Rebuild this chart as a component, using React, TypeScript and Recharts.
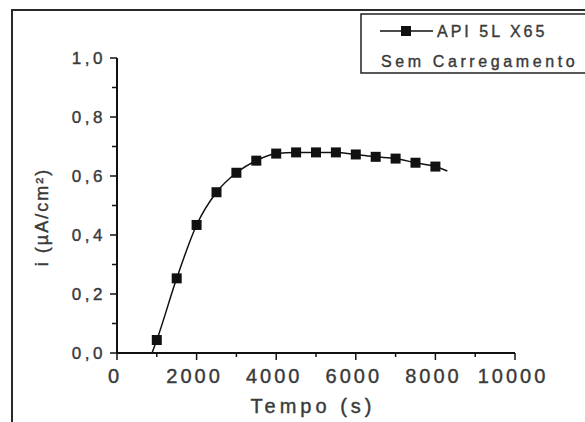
import { Legend, Line, LineChart, XAxis, YAxis } from 'recharts'

// Tempo (s) of each measured point
const tempo = [1000, 1500, 2000, 2500, 3000, 3500, 4000, 4500, 5000, 5500, 6000, 6500, 7000, 7500, 8000]
// i (µA/cm²)
const corrente = [0.044, 0.253, 0.434, 0.545, 0.611, 0.652, 0.676, 0.68, 0.68, 0.68, 0.673, 0.665, 0.659, 0.645, 0.632]
// where the fitted curve starts and ends, beyond the markers
const fitStart = { t: 880, i: 0 }
const fitEnd = { t: 8300, i: 0.617 }

const xTicks = [0, 1000, 2000, 3000, 4000, 5000, 6000, 7000, 8000, 9000, 10000]
const yTicks = [0, 0.1, 0.2, 0.3, 0.4, 0.5, 0.6, 0.7, 0.8, 0.9, 1]

const serieNome = 'API 5L X65'
const serieSub = 'Sem Carregamento'
const xTitulo = 'Tempo (s)'
const yTitulo = 'i (µA/cm²)'

const FONT = '"Liberation Sans", Arial, sans-serif'
const INK = '#111'
const TEXT = '#3a3a3a'
// the scanned text looks heavier than plain Arial
const textStyle = { fontFamily: FONT, fill: TEXT, stroke: TEXT, strokeWidth: 0.4 }

const data = [
  { t: fitStart.t, fit: fitStart.i },
  ...tempo.map((t, k) => ({ t, i: corrente[k], fit: corrente[k] })),
  { t: fitEnd.t, fit: fitEnd.i },
]

function XTick(props: any) {
  const { x, y, payload } = props
  const major = payload.value % 2000 === 0
  return (
    <g>
      <line x1={x} x2={x} y1={y} y2={y + (major ? 7 : 4)} stroke={INK} strokeWidth={1.5} />
      {major && (
        <text x={x - 2} y={y + 30} textAnchor="middle" fontSize={20} letterSpacing={3} style={textStyle}>
          {payload.value}
        </text>
      )}
    </g>
  )
}

function YTick(props: any) {
  const { x, y, payload } = props
  const major = Math.round(payload.value * 10) % 2 === 0
  return (
    <g>
      <line x1={x} x2={x - (major ? 7 : 5)} y1={y} y2={y} stroke={INK} strokeWidth={1.5} />
      {major && (
        <text x={x - 11} y={y} textAnchor="end" dominantBaseline="central" fontSize={17} letterSpacing={3.5} style={textStyle}>
          {payload.value.toFixed(1).replace('.', ',')}
        </text>
      )}
    </g>
  )
}

function SquareDot(props: any) {
  const { cx, cy } = props
  if (cx == null || cy == null) return null
  return <rect key={`d-${cx}`} x={cx - 5} y={cy - 5} width={10} height={10} fill={INK} />
}

function LegendBox() {
  return (
    <svg width={240} height={62} style={{ display: 'block' }}>
      <rect x={1} y={1} width={260} height={59} fill="#fff" stroke="#222" strokeWidth={1.5} />
      <line x1={20} x2={73} y1={18} y2={18} stroke={INK} strokeWidth={1.5} />
      <rect x={41} y={13} width={10} height={10} fill={INK} />
      <text x={77} y={24} fontSize={16} letterSpacing={3} style={textStyle}>
        {serieNome}
      </text>
      <text x={21} y={54} fontSize={16} letterSpacing={3.6} style={textStyle}>
        {serieSub}
      </text>
    </svg>
  )
}

export default function App() {
  return (
    <div style={{ position: 'relative', width: 585, height: 422, overflow: 'hidden', background: '#fff' }}>
      <style>{'body{margin:0}'}</style>
      <div
        style={{
          position: 'absolute',
          left: 11,
          top: 9,
          width: 700,
          height: 700,
          border: '2px solid #2a2a2a',
        }}
      />
      <div style={{ position: 'absolute', left: 0, top: 0 }}>
        <LineChart width={585} height={422} data={data} margin={{ top: 58, right: 70, left: 0, bottom: 0 }}>
          <XAxis
            dataKey="t"
            type="number"
            domain={[0, 10000]}
            ticks={xTicks}
            interval={0}
            height={69}
            tickSize={0}
            tickMargin={0}
            tick={<XTick />}
            axisLine={{ stroke: INK, strokeWidth: 2 }}
            label={{
              content: () => (
                <text x={313} y={413} textAnchor="middle" fontSize={20} letterSpacing={4} style={textStyle}>
                  {xTitulo}
                </text>
              ),
            }}
          />
          <YAxis
            type="number"
            domain={[0, 1]}
            ticks={yTicks}
            interval={0}
            width={117}
            tickSize={0}
            tickMargin={0}
            tick={<YTick />}
            axisLine={{ stroke: INK, strokeWidth: 2 }}
            label={{
              content: () => (
                <text
                  x={42}
                  y={217}
                  transform="rotate(-90, 42, 217)"
                  textAnchor="middle"
                  dominantBaseline="central"
                  fontSize={18}
                  letterSpacing={2}
                  style={textStyle}
                >
                  {yTitulo}
                </text>
              ),
            }}
          />
          <Legend
            layout="vertical"
            align="center"
            verticalAlign="middle"
            content={() => <LegendBox />}
            wrapperStyle={{ left: 360, top: 13, width: 240, height: 62 }}
          />
          <Line
            dataKey="fit"
            type="monotone"
            stroke={INK}
            strokeWidth={1.5}
            dot={false}
            connectNulls
            isAnimationActive={false}
          />
          <Line dataKey="i" stroke="none" dot={<SquareDot />} activeDot={false} isAnimationActive={false} />
        </LineChart>
      </div>
    </div>
  )
}
